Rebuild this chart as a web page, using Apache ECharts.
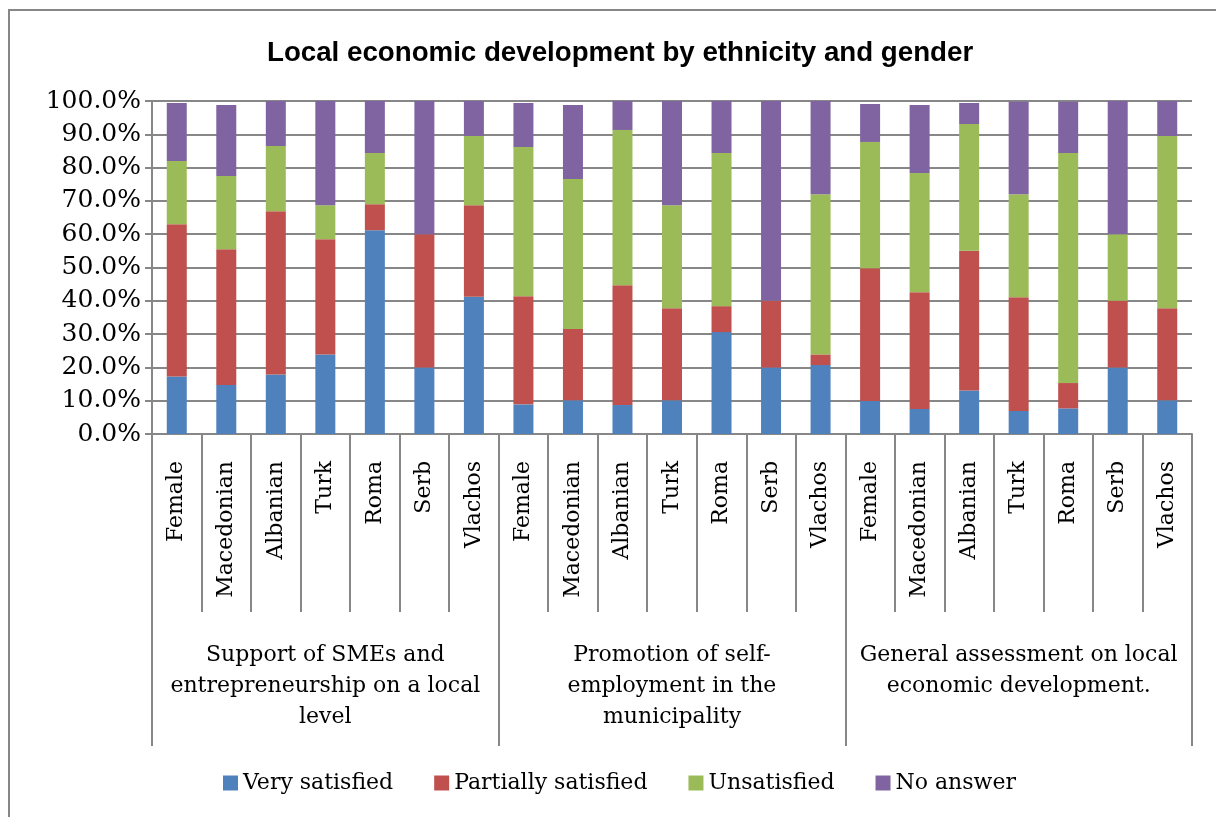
<!DOCTYPE html>
<html>
<head>
<meta charset="utf-8">
<script src="https://cdn.jsdelivr.net/npm/echarts@6/dist/echarts.min.js"></script>
<style>html,body{margin:0;padding:0;background:#fff;}#c{width:1216px;height:817px;}</style>
</head>
<body>
<div id="c"></div>
<script>
const title = 'Local economic development by ethnicity and gender';
const groups = ['Support of SMEs and\nentrepreneurship on a local\nlevel', 'Promotion of self-\nemployment in the\nmunicipality', 'General assessment on local\neconomic development.'];
const subCategories = ['Female','Macedonian','Albanian','Turk','Roma','Serb','Vlachos'];
const seriesNames = ['Very satisfied','Partially satisfied','Unsatisfied','No answer'];
const verySatisfied      = [17.3,14.7,17.9,23.9,61.2,20.0,41.2,  8.9,10.1, 8.7,10.1,30.6,20.0,20.7,  9.9, 7.5,13.1, 6.9, 7.7,20.0,10.1];
const partiallySatisfied = [45.7,40.8,49.0,34.6, 7.8,40.0,27.5, 32.5,21.4,36.0,27.7, 7.8,20.0, 3.2, 39.9,35.1,41.9,34.2, 7.6,20.0,27.7];
const unsatisfied        = [19.0,22.0,19.6,10.2,15.4, 0.0,20.8, 44.8,45.1,46.6,30.9,46.0, 0.0,48.1, 37.9,35.8,38.1,30.9,69.1,20.0,51.7];
const noAnswer           = [17.4,21.3,13.5,31.3,15.6,40.0,10.5, 13.2,22.2, 8.7,31.3,15.6,60.0,28.0, 11.4,20.4, 6.3,27.8,15.4,40.0,10.5];
const yTicks = [0,10,20,30,40,50,60,70,80,90,100];
const colors = ['#4F81BD','#C0504D','#9BBB59','#8064A2'];

const categories = [];
groups.forEach(() => subCategories.forEach(s => categories.push(s)));
const values = [verySatisfied, partiallySatisfied, unsatisfied, noAnswer];
const serif = 'DejaVu Serif';
const gray = '#878787';

const chart = echarts.init(document.getElementById('c'));
chart.setOption({
  animation: false,
  color: colors,
  title: {
    text: title, left: 262, top: 34,
    textStyle: {fontFamily: 'Liberation Sans', fontWeight: 'bold', fontSize: 27.7, color: '#000'}
  },
  legend: {
    bottom: 18, left: 218, itemWidth: 15, itemHeight: 15, itemGap: 41,
    icon: 'rect',
    textStyle: {fontFamily: serif, fontSize: 22, color: '#000'},
    data: seriesNames
  },
  grid: {left: 152, right: 24, top: 101, bottom: 383, containLabel: false},
  yAxis: {
    type: 'value', min: 0, max: 100, interval: 10,
    axisLine: {show: true, lineStyle: {color: gray, width: 2}},
    axisTick: {show: true, length: 7, lineStyle: {color: gray, width: 2}},
    splitLine: {show: true, lineStyle: {color: gray, width: 2}},
    axisLabel: {
      margin: 11, fontFamily: serif, fontSize: 25, color: '#000',
      formatter: v => yTicks.includes(v) ? v.toFixed(1) + '%' : ''
    }
  },
  xAxis: [
    {
      type: 'category', data: categories, position: 'bottom',
      axisLine: {show: true, lineStyle: {color: gray, width: 2}},
      axisTick: {show: true, length: 178, interval: 0, lineStyle: {color: gray, width: 2}},
      axisLabel: {rotate: 90, interval: 0, margin: 27, fontFamily: serif, fontSize: 22, color: '#000'}
    },
    {
      type: 'category', data: groups, position: 'bottom',
      axisLine: {show: false},
      axisTick: {show: true, length: 312, interval: 0, lineStyle: {color: gray, width: 2}},
      axisLabel: {interval: 0, margin: 206, fontFamily: serif, fontSize: 22, lineHeight: 31, color: '#000', align: 'center'}
    }
  ],
  series: seriesNames.map((n, i) => ({
    name: n, type: 'bar', stack: 'total', barWidth: 20, xAxisIndex: 0,
    data: values[i]
  })),
  graphic: [{
    type: 'rect',
    shape: {x: 9, y: 10, width: 1230, height: 830},
    style: {fill: 'none', stroke: gray, lineWidth: 2},
    silent: true
  }]
});
</script>
</body>
</html>
